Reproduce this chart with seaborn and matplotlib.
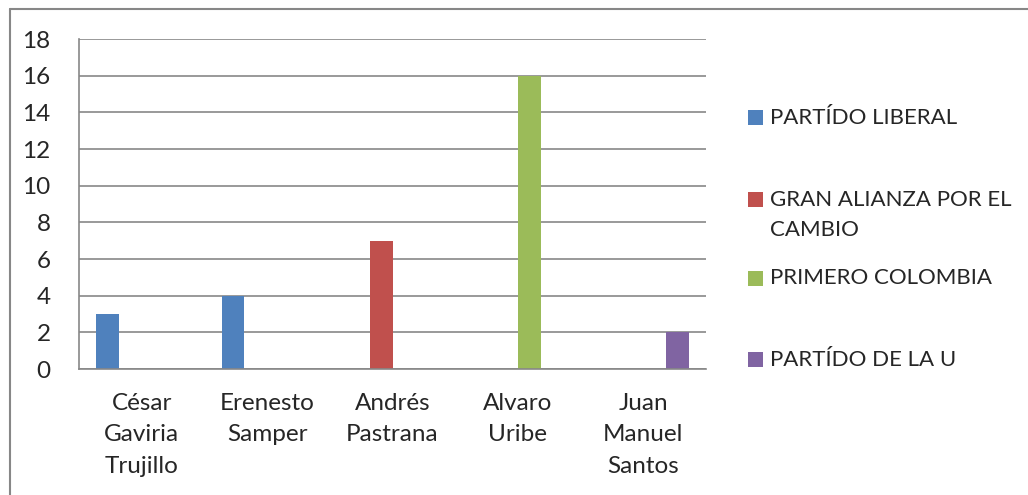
import matplotlib
matplotlib.use("Agg")
import matplotlib.pyplot as plt
import seaborn as sns
import pandas as pd
from matplotlib.patches import Rectangle
from matplotlib.lines import Line2D

# data
candidates = ["César\nGaviria\nTrujillo", "Erenesto\nSamper", "Andrés\nPastrana",
              "Alvaro\nUribe", "Juan\nManuel\nSantos"]
parties = ["PARTÍDO LIBERAL", "GRAN ALIANZA POR EL\nCAMBIO",
           "PRIMERO COLOMBIA", "PARTÍDO DE LA U"]
bar_party = [parties[0], parties[0], parties[1], parties[2], parties[3]]
votes = [3, 4, 7, 16, 2]
colors = ["#4F81BD", "#C0504D", "#9BBB59", "#8064A2"]

df = pd.DataFrame({"candidato": candidates, "partido": bar_party, "valor": votes})

sns.set_style("white")
plt.rcParams["font.family"] = ["Lato", "DejaVu Sans"]

W, H = 1028, 495
fig = plt.figure(figsize=(W / 100, H / 100), dpi=100)
ax = fig.add_axes([79 / W, 1 - 369 / H, 627 / W, 330 / H])

sns.barplot(data=df, x="candidato", y="valor", hue="partido", hue_order=parties,
            order=candidates, palette=colors, width=4 / 5.5, dodge=True,
            errorbar=None, ax=ax, legend=False, saturation=1, linewidth=0)

ax.set_xlim(-0.5, len(candidates) - 0.5)
ax.set_ylim(0, 18)
ax.set_yticks(range(0, 19, 2))
ax.yaxis.grid(True, color="#878787", linewidth=1.2)
ax.set_axisbelow(True)
ax.set_xlabel("")
ax.set_ylabel("")
for s in ["top", "right"]:
    ax.spines[s].set_visible(False)
for s in ["left", "bottom"]:
    ax.spines[s].set_color("#878787")
    ax.spines[s].set_linewidth(1.2)

ax.set_xticks([i + 0.5 for i in range(-1, len(candidates))], minor=True)
ax.tick_params(axis="x", which="major", length=0, pad=17, labelsize=17.5)
ax.tick_params(axis="x", which="minor", length=8, width=1.2, color="#878787")
ax.tick_params(axis="y", length=7, width=1.2, color="#878787", pad=13.5, labelsize=17.5)
for lbl in ax.get_xticklabels():
    lbl.set_linespacing(1.63)

# legend on the right, entries placed like the original
leg_y = [117.5, 200, 278, 359.5]
for party, color, y in zip(parties, colors, leg_y):
    fig.add_artist(Rectangle((748 / W, 1 - (y + 7.5) / H), 15 / W, 15 / H,
                             facecolor=color, edgecolor="none", transform=fig.transFigure))
    nlines = party.count("\n")
    fig.text(770 / W, 1 - (y + nlines * 15) / H, party, fontsize=16, va="center",
             ha="left", linespacing=1.68)

# outer chart border (only left and top visible)
fig.add_artist(Line2D([10 / W, 10 / W], [0, 1 - 9 / H], color="#878787", linewidth=1.5,
                      transform=fig.transFigure))
fig.add_artist(Line2D([10 / W, 1], [1 - 9 / H, 1 - 9 / H], color="#878787", linewidth=1.5,
                      transform=fig.transFigure))

fig.savefig("out.png", dpi=100)
